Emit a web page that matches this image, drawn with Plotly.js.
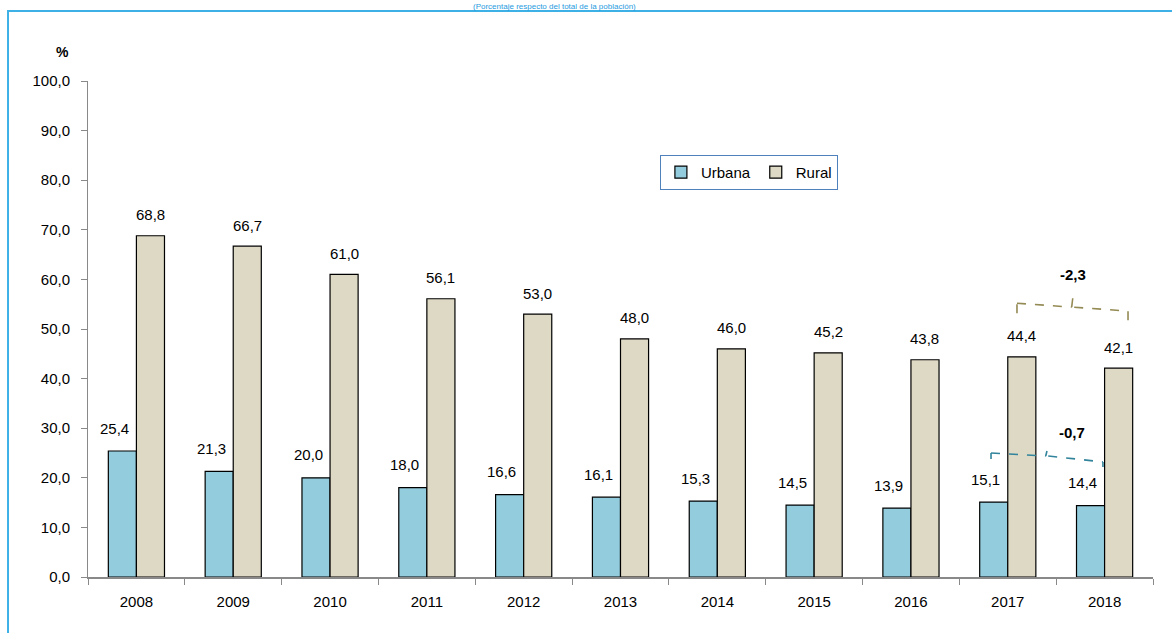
<!DOCTYPE html>
<html>
<head>
<meta charset="utf-8">
<script src="https://cdn.plot.ly/plotly-3.0.1.min.js"></script>
<style>
  html, body { margin: 0; padding: 0; background: #fff; }
  #chart { width: 1172px; height: 633px; }
</style>
</head>
<body>
<div id="chart"></div>
<script>
// ---- data ----
const years = ['2008','2009','2010','2011','2012','2013','2014','2015','2016','2017','2018'];
const urbana = [25.4, 21.3, 20.0, 18.0, 16.6, 16.1, 15.3, 14.5, 13.9, 15.1, 14.4];
const rural  = [68.8, 66.7, 61.0, 56.1, 53.0, 48.0, 46.0, 45.2, 43.8, 44.4, 42.1];
const seriesNames = ['Urbana', 'Rural'];
const yTicks = [0,10,20,30,40,50,60,70,80,90,100];
const subtitle = '(Porcentaje respecto del total de la población)';

// ---- styling ----
const FONT = '"Liberation Sans Narrow", "Arial Narrow", "Liberation Sans", Arial, sans-serif';
const FS = 15;
const fmt = v => v.toFixed(1).replace('.', ',');

const traces = [
  { type: 'bar', name: seriesNames[0], x: years, y: urbana,
    marker: { color: '#93CDDD', line: { color: '#000', width: 1.2 } }, hoverinfo: 'x+y' },
  { type: 'bar', name: seriesNames[1], x: years, y: rural,
    marker: { color: '#DDD9C4', line: { color: '#000', width: 1.2 } }, hoverinfo: 'x+y' }
];

const annotations = [];
years.forEach((yr, i) => {
  annotations.push({ x: i - 0.145, y: urbana[i], xref: 'x', yref: 'y', text: fmt(urbana[i]),
    showarrow: false, yanchor: 'middle', yshift: 23, xshift: -8,
    font: { family: FONT, size: FS, color: '#000' } });
  annotations.push({ x: i + 0.145, y: rural[i], xref: 'x', yref: 'y', text: fmt(rural[i]),
    showarrow: false, yanchor: 'middle', yshift: 21,
    font: { family: FONT, size: FS, color: '#000' } });
});

// differences 2018 vs 2017
const n = years.length;
const dRural = rural[n-1] - rural[n-2];
const dUrb = urbana[n-1] - urbana[n-2];

annotations.push({ x: 9.67, y: rural[n-2] + 16.5, xref: 'x', yref: 'y', text: '<b>' + fmt(dRural) + '</b>',
  showarrow: false, yanchor: 'middle', font: { family: FONT, size: FS, color: '#000' } });
annotations.push({ x: 9.66, y: urbana[n-2] + 14, xref: 'x', yref: 'y', text: '<b>' + fmt(dUrb) + '</b>',
  showarrow: false, yanchor: 'middle', font: { family: FONT, size: FS, color: '#000' } });

// % label
annotations.push({ x: -0.024, y: 1.058, xref: 'paper', yref: 'paper', xanchor: 'center', yanchor: 'middle',
  text: '<b>%</b>', showarrow: false, font: { family: FONT, size: 14, color: '#000' } });

// subtitle squeezed above the frame line
annotations.push({ x: 0.438, y: 1.1615, xref: 'paper', yref: 'paper', xanchor: 'center', yanchor: 'top',
  text: subtitle, showarrow: false, borderpad: 0,
  font: { family: FONT, size: 8, color: '#1F9BDE' } });

function seg(x0, y0, x1, y1, color) {
  return { type: 'line', xref: 'x', yref: 'y', x0, y0, x1, y1,
           line: { color, width: 1.6, dash: 'dash' } };
}
const olive = '#948A54', teal = '#31849B', frameBlue = '#3DB1E6';
const shapes = [
  // frame (top and left lines)
  { type: 'line', xref: 'paper', yref: 'paper', x0: -0.0751, x1: 1.05, y0: 1.1411, y1: 1.1411,
    line: { color: frameBlue, width: 2 } },
  { type: 'line', xref: 'paper', yref: 'paper', x0: -0.0751, x1: -0.0751, y0: 1.1431, y1: -0.15,
    line: { color: frameBlue, width: 2 } },
  // rural bracket
  seg(9.095, 53.2, 9.095, 55.2, olive),
  seg(9.095, 55.2, 9.66, 54.4, olive),
  seg(9.66, 54.4, 9.673, 56.5, olive),
  seg(9.686, 54.4, 10.242, 53.6, olive),
  seg(10.242, 53.6, 10.242, 51.4, olive),
  // urban bracket
  seg(8.827, 23.8, 8.827, 25.0, teal),
  seg(8.827, 25.0, 9.392, 24.4, teal),
  seg(9.392, 24.4, 9.405, 25.4, teal),
  seg(9.418, 24.4, 9.983, 23.2, teal),
  seg(9.983, 23.2, 9.983, 22.2, teal)
];

const layout = {
  width: 1172, height: 633,
  margin: { l: 88, r: 19, t: 81, b: 56, pad: 0 },
  paper_bgcolor: '#fff', plot_bgcolor: 'rgba(0,0,0,0)',
  separators: ',.',
  barmode: 'group', bargap: 0.42, bargroupgap: 0,
  font: { family: FONT, size: FS, color: '#000' },
  showlegend: true,
  legend: { orientation: 'h', x: 0.537, y: 0.851, xanchor: 'left', yanchor: 'top',
            bordercolor: '#4F81BD', borderwidth: 1, bgcolor: '#fff',
            font: { family: FONT, size: FS, color: '#000' } },
  xaxis: { type: 'category', tickson: 'boundaries', ticks: 'outside', ticklen: 6,
           tickcolor: '#898989', showline: true, linecolor: '#898989', linewidth: 2,
           showgrid: false, zeroline: false, ticklabelstandoff: 10,
           tickfont: { family: FONT, size: FS, color: '#000' } },
  yaxis: { range: [0, 100], tickvals: yTicks, ticktext: yTicks.map(fmt), ticks: 'outside',
           ticklen: 6, tickcolor: '#898989', showline: true, linecolor: '#898989', linewidth: 1,
           showgrid: false, zeroline: false, ticklabelstandoff: 8,
           tickfont: { family: FONT, size: FS, color: '#000' } },
  annotations, shapes
};

Plotly.newPlot('chart', traces, layout, { displayModeBar: false, staticPlot: true });
</script>
</body>
</html>
